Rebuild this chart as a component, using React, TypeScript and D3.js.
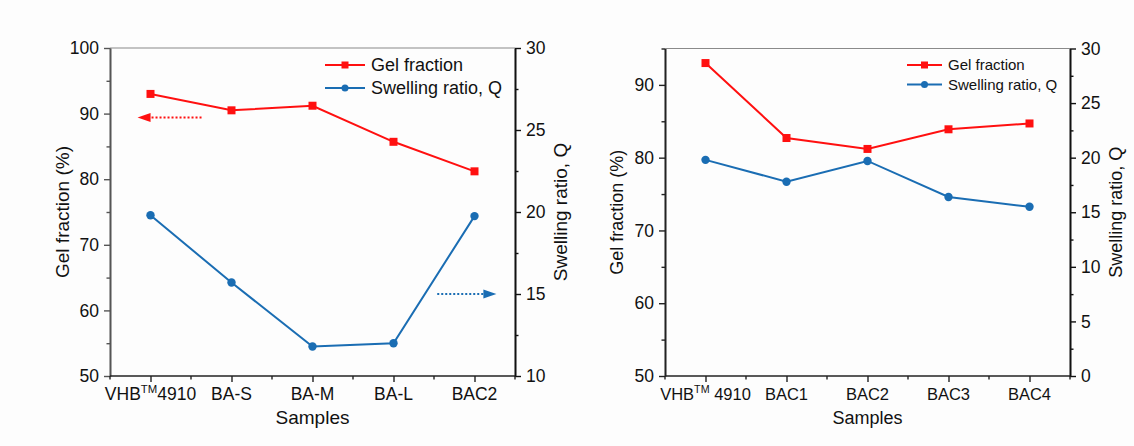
import React, { useEffect, useRef } from "react";
import * as d3 from "d3";

// sample names, "^{..}" marks a superscript
const leftSamples = ["VHB^{TM}4910", "BA-S", "BA-M", "BA-L", "BAC2"];
const leftGel = [93.0, 90.5, 91.2, 85.7, 81.2];
const leftSwelling = [19.8, 15.7, 11.8, 12.0, 19.75];

const rightSamples = ["VHB^{TM} 4910", "BAC1", "BAC2", "BAC3", "BAC4"];
const rightGel = [93.0, 82.7, 81.2, 83.9, 84.7];
const rightSwelling = [19.8, 17.8, 19.7, 16.4, 15.5];

const leftGelTicks = [50, 60, 70, 80, 90, 100];
const leftGelMinor = [55, 65, 75, 85, 95];
const leftQTicks = [10, 15, 20, 25, 30];
const leftQMinor = [12.5, 17.5, 22.5, 27.5];

const rightGelTicks = [50, 60, 70, 80, 90];
const rightGelMinor = [55, 65, 75, 85, 95];
const rightQTicks = [0, 5, 10, 15, 20, 25, 30];
const rightQMinor = [2.5, 7.5, 12.5, 17.5, 22.5, 27.5];

const RED = "#ff1010";
const BLUE = "#1a6db3";
const FONT = "'Liberation Sans', Arial, sans-serif";

function drawPanel(svg, cfg) {
  const g = svg.append("g");
  const x = d3.scalePoint().domain(cfg.samples).range([cfg.x0, cfg.x1]).padding(0.5);
  const step = x.step();
  const xi = (i) => x(cfg.samples[0]) + i * step;
  const yG = d3.scaleLinear().domain(cfg.gelDomain).range([cfg.bottom, cfg.top]);
  const yQ = d3.scaleLinear().domain(cfg.qDomain).range([cfg.bottom, cfg.top]);

  // top frame line
  g.append("line")
    .attr("x1", cfg.x0).attr("x2", cfg.x1)
    .attr("y1", cfg.top).attr("y2", cfg.top)
    .attr("stroke", "#8a8a8a").attr("stroke-width", 1.2);

  const styleAxis = (a, color, fs) => {
    a.select(".domain").attr("stroke", color).attr("stroke-width", 1.6);
    a.selectAll(".tick line").attr("stroke", color).attr("stroke-width", 1.4);
    a.selectAll("text").attr("font-family", FONT).attr("font-size", fs).attr("fill", "#111");
  };

  // left axis
  const la = g.append("g").attr("transform", `translate(${cfg.x0},0)`)
    .call(d3.axisLeft(yG).tickValues(cfg.gelTicks).tickSize(6).tickSizeOuter(0).tickPadding(5));
  styleAxis(la, cfg.leftColor, cfg.tickFs);
  const lm = g.append("g").attr("transform", `translate(${cfg.x0},0)`)
    .call(d3.axisLeft(yG).tickValues(cfg.gelMinor).tickSize(3.5).tickSizeOuter(0).tickFormat(() => ""));
  styleAxis(lm, cfg.leftColor, cfg.tickFs);

  // right axis
  const ra = g.append("g").attr("transform", `translate(${cfg.x1},0)`)
    .call(d3.axisRight(yQ).tickValues(cfg.qTicks).tickSize(6).tickSizeOuter(0).tickPadding(5));
  styleAxis(ra, "#111", cfg.tickFs);
  const rm = g.append("g").attr("transform", `translate(${cfg.x1},0)`)
    .call(d3.axisRight(yQ).tickValues(cfg.qMinor).tickSize(3.5).tickSizeOuter(0).tickFormat(() => ""));
  styleAxis(rm, "#111", cfg.tickFs);

  // bottom axis
  const ba = g.append("g").attr("transform", `translate(0,${cfg.bottom})`)
    .call(d3.axisBottom(x).tickSize(6).tickSizeOuter(0).tickFormat(() => ""));
  styleAxis(ba, "#222", cfg.catFs);
  ba.select(".domain").attr("d", `M${cfg.x0},0H${cfg.x1}`);
  const minorX = d3.range(-0.5, cfg.samples.length, 1).map(xi);
  g.append("g").selectAll("line").data(minorX).join("line")
    .attr("x1", (d) => d).attr("x2", (d) => d)
    .attr("y1", cfg.bottom).attr("y2", cfg.bottom + 3.5)
    .attr("stroke", "#222").attr("stroke-width", 1.4);

  // category labels with superscript
  cfg.samples.forEach((s) => {
    const t = g.append("text")
      .attr("x", x(s)).attr("y", cfg.bottom + 24)
      .attr("text-anchor", "middle")
      .attr("font-family", FONT).attr("font-size", cfg.catFs).attr("fill", "#111")
      .style("white-space", "pre");
    const parts = s.split(/\^\{(.*?)\}/);
    parts.forEach((p, i) => {
      if (!p) return;
      if (i % 2 === 1) {
        t.append("tspan").attr("font-size", cfg.catFs * 0.65).attr("dy", -7).text(p);
      } else {
        const sp = t.append("tspan").text(p);
        if (i > 0) sp.attr("dy", 7);
      }
    });
  });

  // axis titles
  const title = (tx, ty, rot, txt) =>
    g.append("text")
      .attr("transform", `translate(${tx},${ty})${rot ? " rotate(-90)" : ""}`)
      .attr("text-anchor", "middle")
      .attr("font-family", FONT).attr("font-size", cfg.titleFs).attr("fill", "#111")
      .text(txt);
  title(cfg.gelTitleX, (cfg.top + cfg.bottom) / 2, true, "Gel fraction (%)");
  title(cfg.qTitleX, (cfg.top + cfg.bottom) / 2, true, "Swelling ratio, Q");
  title((cfg.x0 + cfg.x1) / 2, cfg.bottom + 48, false, "Samples");

  // series
  const gelLine = d3.line().x((d, i) => x(cfg.samples[i])).y((d) => yG(d));
  const qLine = d3.line().x((d, i) => x(cfg.samples[i])).y((d) => yQ(d));
  g.append("path").attr("d", gelLine(cfg.gel)).attr("fill", "none").attr("stroke", RED).attr("stroke-width", 2);
  g.append("path").attr("d", qLine(cfg.swelling)).attr("fill", "none").attr("stroke", BLUE).attr("stroke-width", 2);
  g.append("g").selectAll("rect").data(cfg.gel).join("rect")
    .attr("x", (d, i) => x(cfg.samples[i]) - 4).attr("y", (d) => yG(d) - 4)
    .attr("width", 8).attr("height", 8).attr("fill", RED);
  g.append("g").selectAll("circle").data(cfg.swelling).join("circle")
    .attr("cx", (d, i) => x(cfg.samples[i])).attr("cy", (d) => yQ(d))
    .attr("r", 4.2).attr("fill", BLUE);

  // arrows
  (cfg.arrows || []).forEach((a) => {
    const sc = a.axis === "gel" ? yG : yQ;
    const y = sc(a.value);
    const x1 = xi(a.from);
    const x2 = xi(a.to);
    const dir = Math.sign(x2 - x1);
    g.append("line")
      .attr("x1", x1).attr("x2", x2 - dir * 12)
      .attr("y1", y).attr("y2", y)
      .attr("stroke", a.color).attr("stroke-width", 2).attr("stroke-dasharray", "2,2");
    g.append("path")
      .attr("d", `M${x2},${y}L${x2 - dir * 13},${y - 4.5}L${x2 - dir * 13},${y + 4.5}Z`)
      .attr("fill", a.color);
  });

  // legend
  const legend = [
    { label: "Gel fraction", color: RED, shape: "square" },
    { label: "Swelling ratio, Q", color: BLUE, shape: "circle" },
  ];
  legend.forEach((l, i) => {
    const ly = cfg.legendY + i * cfg.legendGap;
    g.append("line")
      .attr("x1", cfg.legendX).attr("x2", cfg.legendX + cfg.legendLen)
      .attr("y1", ly).attr("y2", ly)
      .attr("stroke", l.color).attr("stroke-width", 2);
    const cx = cfg.legendX + cfg.legendLen / 2;
    if (l.shape === "square") {
      g.append("rect").attr("x", cx - 3.5).attr("y", ly - 3.5).attr("width", 7).attr("height", 7).attr("fill", l.color);
    } else {
      g.append("circle").attr("cx", cx).attr("cy", ly).attr("r", 3.5).attr("fill", l.color);
    }
    g.append("text")
      .attr("x", cfg.legendX + cfg.legendLen + 6).attr("y", ly)
      .attr("dy", "0.35em")
      .attr("font-family", FONT).attr("font-size", cfg.legendFs).attr("fill", "#111")
      .text(l.label);
  });
}

export default function App() {
  const svgRef = useRef(null);

  useEffect(() => {
    const svg = d3.select(svgRef.current);
    svg.selectAll("*").remove();
    svg.append("rect").attr("width", 1134).attr("height", 446).attr("fill", "#fdfdfd");

    drawPanel(svg, {
      samples: leftSamples, gel: leftGel, swelling: leftSwelling,
      x0: 110, x1: 515, top: 48, bottom: 376,
      gelDomain: [50, 100], qDomain: [10, 30],
      gelTicks: leftGelTicks, gelMinor: leftGelMinor,
      qTicks: leftQTicks, qMinor: leftQMinor,
      leftColor: "#555",
      tickFs: 17.5, catFs: 17.5, titleFs: 19, legendFs: 18,
      gelTitleX: 69, qTitleX: 567,
      legendX: 325, legendY: 65, legendGap: 23, legendLen: 40,
      arrows: [
        { axis: "gel", value: 89.4, from: 0.63, to: -0.16, color: RED },
        { axis: "q", value: 15, from: 3.54, to: 4.27, color: BLUE },
      ],
    });

    drawPanel(svg, {
      samples: rightSamples, gel: rightGel, swelling: rightSwelling,
      x0: 665, x1: 1070, top: 48.5, bottom: 376,
      gelDomain: [50, 95], qDomain: [0, 30],
      gelTicks: rightGelTicks, gelMinor: rightGelMinor,
      qTicks: rightQTicks, qMinor: rightQMinor,
      leftColor: "#222",
      tickFs: 17.5, catFs: 16.5, titleFs: 18, legendFs: 15,
      gelTitleX: 623, qTitleX: 1122,
      legendX: 907, legendY: 65, legendGap: 19.5, legendLen: 35,
      arrows: [],
    });
  }, []);

  return (
    <svg
      ref={svgRef}
      width={1134}
      height={446}
      style={{ position: "absolute", left: 0, top: 0, display: "block" }}
    />
  );
}
